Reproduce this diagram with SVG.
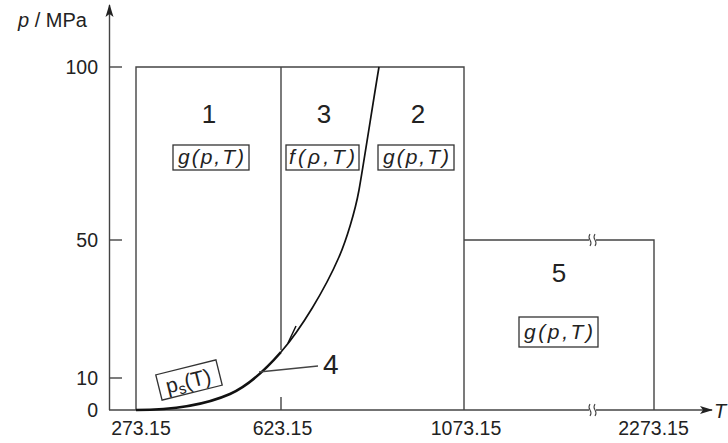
<svg xmlns="http://www.w3.org/2000/svg" width="728" height="443" viewBox="0 0 728 443">
<style>
.ln{stroke:#444;stroke-width:1.4;fill:none}
.tx{font-family:"Liberation Sans",Arial,sans-serif;fill:#222}
.num{font-size:19.5px}
.big{font-size:26px}
.fn{font-size:21px;font-style:italic}
.bx{fill:#fff;stroke:#333;stroke-width:1.3}
</style>
<defs>
<marker id="ah" markerWidth="13" markerHeight="10" refX="12" refY="5" orient="auto" markerUnits="userSpaceOnUse">
<path d="M0,1 L13,5 L0,9 L3,5 Z" fill="#222"/>
</marker>
</defs>
<rect width="728" height="443" fill="#fff"/>
<g id="axes">
<line class="ln" x1="109.5" y1="410" x2="109.5" y2="5" marker-end="url(#ah)"/>
<line class="ln" x1="109" y1="410" x2="712" y2="410" marker-end="url(#ah)"/>
<line class="ln" x1="109" y1="67" x2="122" y2="67"/>
<line class="ln" x1="109" y1="240" x2="122" y2="240"/>
<line class="ln" x1="109" y1="378" x2="122" y2="378"/>
<line class="ln" x1="281" y1="397" x2="281" y2="410"/>
<text class="tx" x="18" y="27" style="font-size:20px"><tspan font-style="italic">p</tspan> / MPa</text>
<text class="tx" x="714" y="418" style="font-size:20px;font-style:italic">T</text>
<text class="tx num" x="98" y="74" text-anchor="end">100</text>
<text class="tx num" x="98" y="247" text-anchor="end">50</text>
<text class="tx num" x="98" y="385" text-anchor="end">10</text>
<text class="tx num" x="98" y="417" text-anchor="end">0</text>
<text class="tx num" x="141" y="435" text-anchor="middle">273.15</text>
<text class="tx num" x="282.5" y="435" text-anchor="middle">623.15</text>
<text class="tx num" x="466" y="435" text-anchor="middle">1073.15</text>
<text class="tx num" x="653.5" y="435" text-anchor="middle">2273.15</text>
</g>
<g id="connectors">
<path class="ln" d="M136,410 V67 H464 V410"/>
<line class="ln" x1="281" y1="67" x2="281" y2="350"/>
<path class="ln" d="M464,240 H654 V410"/>
<path d="M281,352 C301,329 325,289.2 339,257 C346,241 355,212 359,190 C363,168 375,90 379,67" fill="none" stroke="#111" stroke-width="1.7"/>
<path d="M136,410 C170,410 205,405 230,394 C247,386.4 264,371.5 281,352" fill="none" stroke="#111" stroke-width="2.6"/>
<line x1="296" y1="326" x2="288" y2="343" stroke="#111" stroke-width="1.5"/>
<line class="ln" x1="259" y1="372" x2="318" y2="366" stroke-width="1.2"/>
<g id="breaks" stroke="#444" stroke-width="1.1" fill="none">
<rect x="589" y="234" width="7" height="12" fill="#fff" stroke="none"/>
<path d="M590,234 q-2,3 0,6 q2,3 0,6"/>
<path d="M595,234 q-2,3 0,6 q2,3 0,6"/>
<rect x="589" y="404" width="7" height="12" fill="#fff" stroke="none"/>
<path d="M590,404 q-2,3 0,6 q2,3 0,6"/>
<path d="M595,404 q-2,3 0,6 q2,3 0,6"/>
</g>
</g>
<g id="region1">
<text class="tx big" x="209" y="123" text-anchor="middle">1</text>
<rect class="bx" x="173" y="145" width="76" height="25"/>
<text class="tx fn" x="178" y="164" textLength="66" lengthAdjust="spacing">g(p,T)</text>
</g>
<g id="region3">
<text class="tx big" x="324" y="123" text-anchor="middle">3</text>
<rect class="bx" x="286" y="145" width="73" height="25"/>
<text class="tx fn" x="289" y="164" textLength="66" lengthAdjust="spacing">f(ρ,T)</text>
</g>
<g id="region2">
<text class="tx big" x="418" y="123" text-anchor="middle">2</text>
<rect class="bx" x="378" y="145" width="76" height="25"/>
<text class="tx fn" x="383" y="164" textLength="66" lengthAdjust="spacing">g(p,T)</text>
</g>
<g id="region5">
<text class="tx big" x="559" y="282" text-anchor="middle">5</text>
<rect class="bx" x="519" y="317" width="79" height="30"/>
<text class="tx fn" x="524" y="339" textLength="69" lengthAdjust="spacing">g(p,T)</text>
</g>
<g id="region4">
<text class="tx" x="323" y="374" style="font-size:28px">4</text>
</g>
<g id="ps" transform="translate(189,380) rotate(-14)">
<rect class="bx" x="-31" y="-13" width="62" height="26"/>
<text class="tx" x="-1" y="8" text-anchor="middle" style="font-size:21px">p<tspan font-size="15" dy="4">s</tspan><tspan dy="-4">(T)</tspan></text>
</g>
</svg>
